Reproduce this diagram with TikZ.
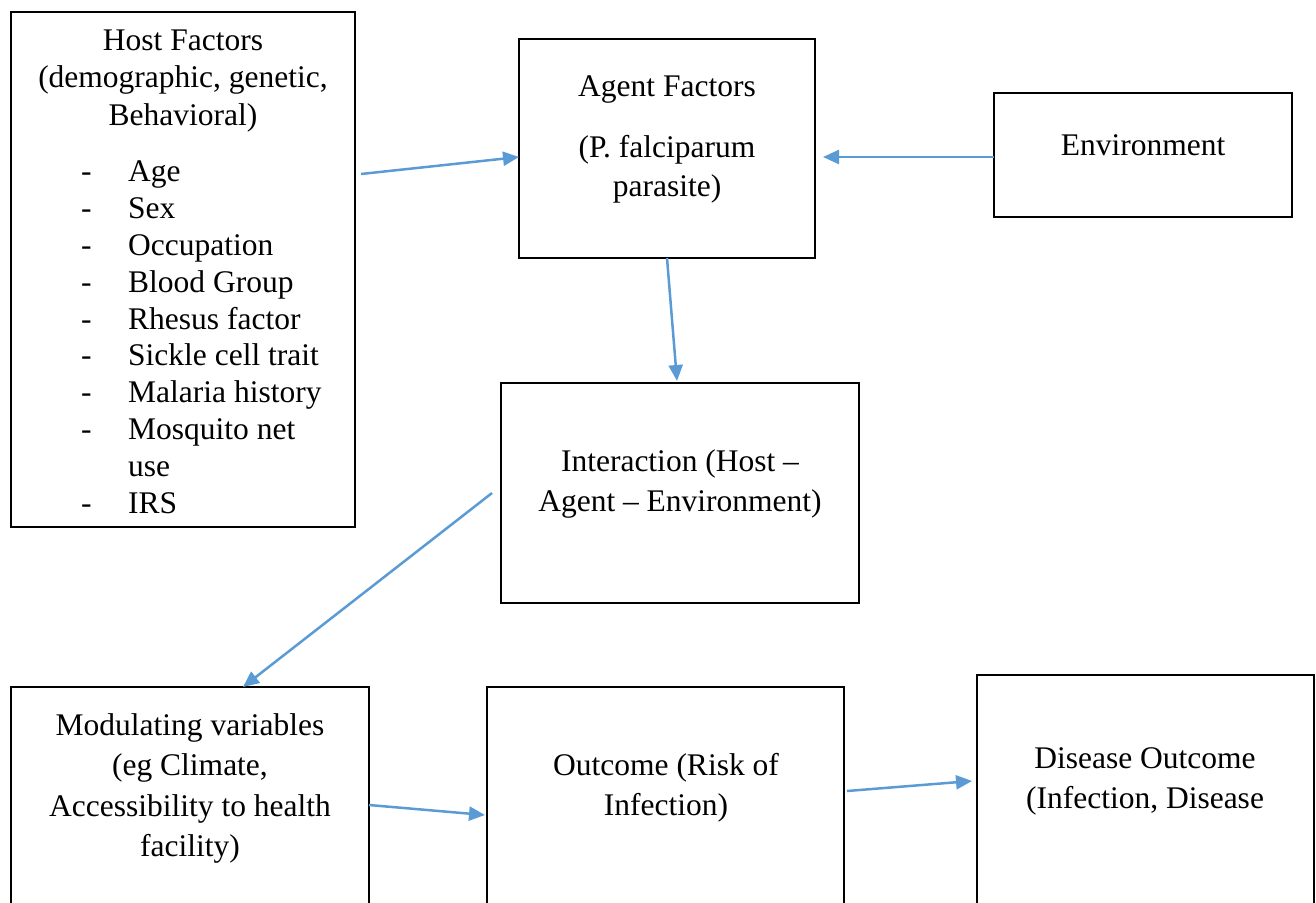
\documentclass[tikz,border=0pt]{standalone}
\usepackage{fontspec}
\setmainfont{Liberation Serif}
\usepackage{xcolor}
\usetikzlibrary{arrows.meta,calc}
\definecolor{linkblue}{HTML}{5B9BD5}

\begin{document}
\begin{tikzpicture}[x=1pt,y=-1pt,
  box/.style={draw=black, line width=1.8pt, inner sep=0pt, outer sep=0pt, anchor=north west},
  txt/.style={inner sep=0pt, anchor=base, align=center, font=\fontsize{31.5pt}{40pt}\selectfont},
  link/.style={draw=linkblue, line width=2.5pt, -{Triangle[length=16pt,width=14pt]}}]
  \useasboundingbox (0,0) rectangle (1316,902);
  \clip (0,0) rectangle (1316,902);

  % boxes
  \node[box, minimum width=344pt, minimum height=515pt] (host) at (11,12) {};
  \node[box, minimum width=296pt, minimum height=219pt] (agent) at (519,39) {};
  \node[box, minimum width=298pt, minimum height=124pt] (env) at (994,93) {};
  \node[box, minimum width=358pt, minimum height=220pt] (inter) at (501,383) {};
  \node[box, minimum width=358pt, minimum height=260pt] (modul) at (11,687) {};
  \node[box, minimum width=357pt, minimum height=260pt] (outcome) at (487,687) {};
  \node[box, minimum width=337pt, minimum height=270pt] (disease) at (977,675) {};

  % texts (placed at the baseline of their last line)
  \node[txt, font=\fontsize{31.5pt}{37.5pt}\selectfont] (hosttitle) at (183,125)
    {Host Factors\\(demographic, genetic,\\Behavioral)};
  \node[txt, anchor=base west, align=left, font=\fontsize{31.5pt}{36.8pt}\selectfont] (hostdash) at (81,513)
    {-\\-\\-\\-\\-\\-\\-\\-\\\mbox{}\\-};
  \node[txt, anchor=base west, align=left, font=\fontsize{31.5pt}{36.8pt}\selectfont] (hostlist) at (128,513)
    {Age\\Sex\\Occupation\\Blood Group\\Rhesus factor\\Sickle cell trait\\Malaria history\\Mosquito net\\use\\IRS};
  \node[txt, font=\fontsize{31.5pt}{39pt}\selectfont] (agenttxt) at (667,196.7)
    {Agent Factors\\[22pt](P. falciparum\\parasite)};
  \node[txt] (envtxt) at (1143,155) {Environment};
  \node[txt] (intertxt) at (680,511.7) {Interaction (Host --\\Agent -- Environment)};
  \node[txt, font=\fontsize{31.5pt}{40.5pt}\selectfont] (modultxt) at (190,856.5)
    {Modulating variables\\(eg Climate,\\Accessibility to health\\facility)};
  \node[txt] (outcometxt) at (666,815) {Outcome (Risk of\\Infection)};
  \node[txt] (diseasetxt) at (1145,808) {Disease Outcome\\(Infection, Disease};

  % arrows
  \draw[link] ($(host.north east)+(6,162)$) -- ($(agent.north west)+(0,118)$);
  \draw[link] ($(env.north west)+(0,64)$) -- ($(agent.north east)+(8,118)$);
  \draw[link] (agent.south) -- ($(inter.north)+(-3,-2)$);
  \draw[link] ($(inter.west)+(-9,0)$) -- ($(modul.north)+(53,0)$);
  \draw[link] ($(modul.north east)+(0,118)$) -- ($(outcome.north west)+(-2,128)$);
  \draw[link] ($(outcome.north east)+(3,104)$) -- ($(disease.north west)+(-5,106)$);
\end{tikzpicture}
\end{document}
